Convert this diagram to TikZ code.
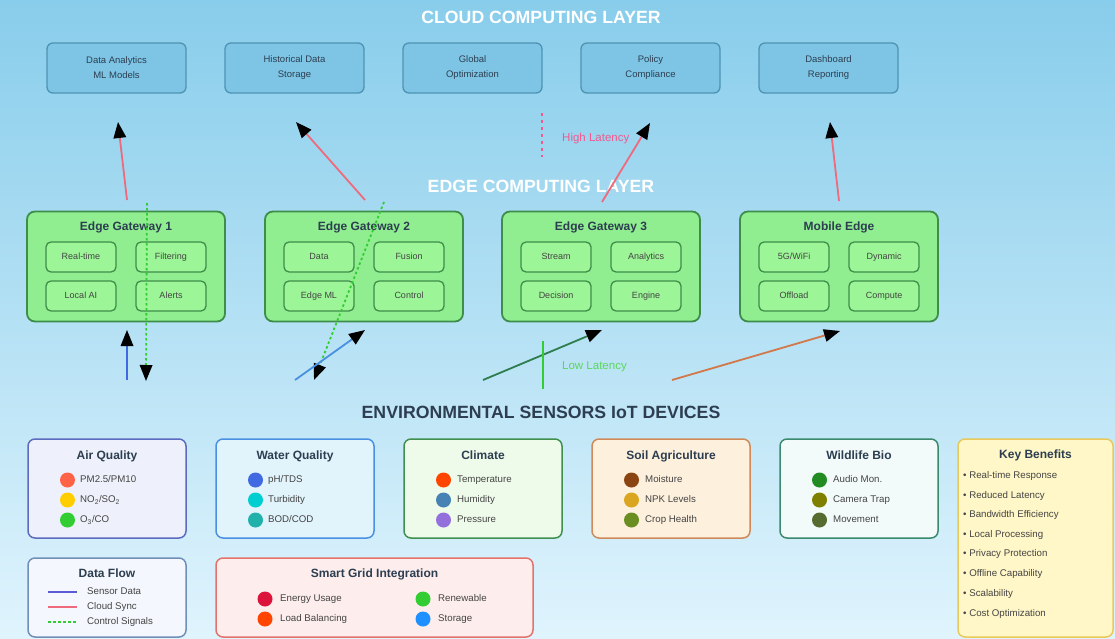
\documentclass[tikz,border=0pt]{standalone}
\usepackage{fontspec}
\setmainfont{Liberation Sans}
\usepackage{tikz}
\usetikzlibrary{arrows.meta,positioning,calc}

\definecolor{skytop}{HTML}{88CDEB}
\definecolor{skybot}{HTML}{E0F4FD}
\definecolor{cloudfill}{HTML}{7EC5E5}
\definecolor{cloudline}{HTML}{4E93B3}
\definecolor{gatefill}{HTML}{90EE90}
\definecolor{unitfill}{HTML}{9CF596}
\definecolor{gateline}{HTML}{3E8E4A}
\definecolor{inktext}{HTML}{2C3E50}
\definecolor{inkgray}{HTML}{444444}
\definecolor{syncred}{HTML}{EE6A7C}
\definecolor{ctrlgreen}{HTML}{32CD32}
\definecolor{airline}{HTML}{5C6BC0}
\definecolor{airfill}{HTML}{EEF1FB}
\definecolor{waterline}{HTML}{4A90E2}
\definecolor{waterfill}{HTML}{E1F3FB}
\definecolor{climline}{HTML}{3F8F4F}
\definecolor{climfill}{HTML}{EFFBEA}
\definecolor{soilline}{HTML}{D08A5A}
\definecolor{soilfill}{HTML}{FDF0DC}
\definecolor{wildline}{HTML}{3B8A6E}
\definecolor{wildfill}{HTML}{F2FBFA}
\definecolor{keyline}{HTML}{E8C95A}
\definecolor{keyfill}{HTML}{FFF7C7}
\definecolor{flowline}{HTML}{6F8FB8}
\definecolor{flowfill}{HTML}{F4F7FD}
\definecolor{gridline}{HTML}{E3736A}
\definecolor{gridfill}{HTML}{FDEEED}

\tikzset{
  cloudbox/.style={draw=cloudline, fill=cloudfill, line width=1.3pt, rounded corners=6pt,
    minimum width=139pt, minimum height=50pt, inner sep=0pt, align=center,
    text=inktext, font=\fontsize{9.5}{15}\selectfont},
  gatebox/.style={draw=gateline, fill=gatefill, line width=1.8pt, rounded corners=8pt,
    minimum width=198pt, minimum height=110pt, inner sep=0pt},
  unitbox/.style={draw=gateline, fill=unitfill, line width=1.3pt, rounded corners=5pt,
    minimum width=70pt, minimum height=30pt, inner sep=0pt, text=inkgray,
    text height=6.5pt, text depth=1.9pt, font=\fontsize{9}{10}\selectfont},
  layertitle/.style={font=\bfseries\fontsize{17.7}{19}\selectfont},
  boxtitle/.style={text=inktext, text height=8.6pt, text depth=2.5pt,
    font=\bfseries\fontsize{12}{13}\selectfont},
  panel/.style={line width=1.5pt, rounded corners=7pt, minimum width=158pt,
    minimum height=99pt, inner sep=0pt},
  itemtext/.style={anchor=west, inner sep=0pt, text=inkgray, text height=7pt,
    text depth=2pt, font=\fontsize{9.7}{11}\selectfont},
  bead/.style={circle, inner sep=0pt, minimum size=15pt},
  link/.style={line width=1.8pt, -{Triangle[length=16pt,width=12.5pt,black]}},
  cloudsync/.style={link, syncred},
  ctrl/.style={link, ctrlgreen, dash pattern=on 2.5pt off 2.5pt}
}

\begin{document}
\begin{tikzpicture}[x=1pt,y=-1pt]

\useasboundingbox (0,0) rectangle (1115,639);
\shade[top color=skytop, bottom color=skybot] (0,0) rectangle (1115,639);

% cloud layer
\node[layertitle, text=white] (cloudtitle) at (541,17) {CLOUD COMPUTING LAYER};
\node[cloudbox] (cl1) at (116.5,68) {Data Analytics\\ML Models};
\node[cloudbox] (cl2) at (294.5,68) {Historical Data\\Storage};
\node[cloudbox] (cl3) at (472.5,68) {Global\\Optimization};
\node[cloudbox] (cl4) at (650.5,68) {Policy\\Compliance};
\node[cloudbox] (cl5) at (828.5,68) {Dashboard\\Reporting};

% edge layer
\node[layertitle, text=white] (edgetitle) at (541,186) {EDGE COMPUTING LAYER};

\node[gatebox] (gw1) at (126,266.5) {};
\node[boxtitle] (gw1t) at (126,227) {Edge Gateway 1};
\node[unitbox] (gw1a) at (81,257) {Real-time};
\node[unitbox] (gw1b) at (171,257) {Filtering};
\node[unitbox] (gw1c) at (81,296) {Local AI};
\node[unitbox] (gw1d) at (171,296) {Alerts};

\node[gatebox] (gw2) at (364,266.5) {};
\node[boxtitle] (gw2t) at (364,227) {Edge Gateway 2};
\node[unitbox] (gw2a) at (319,257) {Data};
\node[unitbox] (gw2b) at (409,257) {Fusion};
\node[unitbox] (gw2c) at (319,296) {Edge ML};
\node[unitbox] (gw2d) at (409,296) {Control};

\node[gatebox] (gw3) at (601,266.5) {};
\node[boxtitle] (gw3t) at (601,227) {Edge Gateway 3};
\node[unitbox] (gw3a) at (556,257) {Stream};
\node[unitbox] (gw3b) at (646,257) {Analytics};
\node[unitbox] (gw3c) at (556,296) {Decision};
\node[unitbox] (gw3d) at (646,296) {Engine};

\node[gatebox] (mob) at (839,266.5) {};
\node[boxtitle] (mobt) at (839,227) {Mobile Edge};
\node[unitbox] (moba) at (794,257) {5G/WiFi};
\node[unitbox] (mobb) at (884,257) {Dynamic};
\node[unitbox] (mobc) at (794,296) {Offload};
\node[unitbox] (mobd) at (884,296) {Compute};

% edge to cloud
\coordinate (up1s) at (127,200); \coordinate (up1e) at (118,122);
\coordinate (up2s) at (365,200); \coordinate (up2e) at (296,122);
\coordinate (up3s) at (602,202); \coordinate (up3e) at (650,123);
\coordinate (up4s) at (839,201); \coordinate (up4e) at (830,122);
\draw[cloudsync] (up1s) -- (up1e);
\draw[cloudsync] (up2s) -- (up2e);
\draw[cloudsync] (up3s) -- (up3e);
\draw[cloudsync] (up4s) -- (up4e);

\coordinate (hl1) at (542,113); \coordinate (hl2) at (542,157);
\draw[color=syncred!85!magenta, line width=2.5pt, dash pattern=on 3pt off 4pt] (hl1) -- (hl2);
\node[anchor=west, inner sep=0pt, text=syncred!85!magenta, font=\fontsize{11.5}{12}\selectfont] (hightxt) at (562,139) {High Latency};

% control signals
\coordinate (dn1s) at (147,203); \coordinate (dn1e) at (146,381);
\coordinate (dn2s) at (384,202); \coordinate (dn2e) at (314,380);
\draw[ctrl] (dn1s) -- (dn1e);
\draw[ctrl] (dn2s) -- (dn2e);

% sensors to edge
\coordinate (in1s) at (127,380); \coordinate (in1e) at (127,330);
\coordinate (in2s) at (295,380); \coordinate (in2e) at (365,330);
\coordinate (in3s) at (483,380); \coordinate (in3e) at (602,330);
\coordinate (in4s) at (672,380); \coordinate (in4e) at (840,331);
\draw[link, color={rgb,255:red,65;green,105;blue,225}] (in1s) -- (in1e);
\draw[link, color={rgb,255:red,74;green,144;blue,226}] (in2s) -- (in2e);
\draw[link, color={rgb,255:red,46;green,125;blue,79}] (in3s) -- (in3e);
\draw[link, color={rgb,255:red,210;green,120;blue,74}] (in4s) -- (in4e);

\coordinate (ll1) at (543,341); \coordinate (ll2) at (543,389);
\draw[color=ctrlgreen, line width=2pt] (ll1) -- (ll2);
\node[anchor=west, inner sep=0pt, text=ctrlgreen!80!white, font=\fontsize{11.5}{12}\selectfont] (lowtxt) at (562,367) {Low Latency};

% sensor layer
\node[layertitle, text=inktext] (sensetitle) at (541,412) {ENVIRONMENTAL SENSORS IoT DEVICES};

\node[panel, draw=airline, fill=airfill] (air) at (107,488.5) {};
\node[boxtitle] (airt) at (107,456) {Air Quality};
\node[bead, fill={rgb,255:red,255;green,99;blue,71}] (air1) at (67.5,480) {};
\node[itemtext] (air1t) at (80,480) {PM2.5/PM10};
\node[bead, fill={rgb,255:red,255;green,205;blue,0}] (air2) at (67.5,500) {};
\node[itemtext] (air2t) at (80,500) {NO\textsubscript{2}/SO\textsubscript{2}};
\node[bead, fill={rgb,255:red,50;green,205;blue,50}] (air3) at (67.5,520) {};
\node[itemtext] (air3t) at (80,520) {O\textsubscript{3}/CO};

\node[panel, draw=waterline, fill=waterfill] (water) at (295,488.5) {};
\node[boxtitle] (watert) at (295,456) {Water Quality};
\node[bead, fill={rgb,255:red,65;green,105;blue,225}] (water1) at (255.5,480) {};
\node[itemtext] (water1t) at (268,480) {pH/TDS};
\node[bead, fill={rgb,255:red,0;green,206;blue,209}] (water2) at (255.5,500) {};
\node[itemtext] (water2t) at (268,500) {Turbidity};
\node[bead, fill={rgb,255:red,32;green,178;blue,170}] (water3) at (255.5,520) {};
\node[itemtext] (water3t) at (268,520) {BOD/COD};

\node[panel, draw=climline, fill=climfill] (clim) at (483,488.5) {};
\node[boxtitle] (climt) at (483,456) {Climate};
\node[bead, fill={rgb,255:red,255;green,69;blue,0}] (clim1) at (443.5,480) {};
\node[itemtext] (clim1t) at (457,480) {Temperature};
\node[bead, fill={rgb,255:red,70;green,130;blue,180}] (clim2) at (443.5,500) {};
\node[itemtext] (clim2t) at (457,500) {Humidity};
\node[bead, fill={rgb,255:red,147;green,112;blue,219}] (clim3) at (443.5,520) {};
\node[itemtext] (clim3t) at (457,520) {Pressure};

\node[panel, draw=soilline, fill=soilfill] (soil) at (671,488.5) {};
\node[boxtitle] (soilt) at (671,456) {Soil Agriculture};
\node[bead, fill={rgb,255:red,139;green,69;blue,19}] (soil1) at (631.5,480) {};
\node[itemtext] (soil1t) at (645,480) {Moisture};
\node[bead, fill={rgb,255:red,218;green,165;blue,32}] (soil2) at (631.5,500) {};
\node[itemtext] (soil2t) at (645,500) {NPK Levels};
\node[bead, fill={rgb,255:red,107;green,142;blue,35}] (soil3) at (631.5,520) {};
\node[itemtext] (soil3t) at (645,520) {Crop Health};

\node[panel, draw=wildline, fill=wildfill] (wild) at (859,488.5) {};
\node[boxtitle] (wildt) at (859,456) {Wildlife Bio};
\node[bead, fill={rgb,255:red,34;green,139;blue,34}] (wild1) at (819.5,480) {};
\node[itemtext] (wild1t) at (833,480) {Audio Mon.};
\node[bead, fill={rgb,255:red,128;green,128;blue,0}] (wild2) at (819.5,500) {};
\node[itemtext] (wild2t) at (833,500) {Camera Trap};
\node[bead, fill={rgb,255:red,85;green,107;blue,47}] (wild3) at (819.5,520) {};
\node[itemtext] (wild3t) at (833,520) {Movement};

% benefits
\node[panel, draw=keyline, fill=keyfill, minimum width=155pt, minimum height=198pt] (keyb) at (1035.5,538) {};
\node[boxtitle] (keyt) at (1035.5,455) {Key Benefits};
\node[itemtext] (key1) at (963,476) {• Real-time Response};
\node[itemtext] (key2) at (963,496) {• Reduced Latency};
\node[itemtext] (key3) at (963,515) {• Bandwidth Efficiency};
\node[itemtext] (key4) at (963,535) {• Local Processing};
\node[itemtext] (key5) at (963,554) {• Privacy Protection};
\node[itemtext] (key6) at (963,574) {• Offline Capability};
\node[itemtext] (key7) at (963,594) {• Scalability};
\node[itemtext] (key8) at (963,614) {• Cost Optimization};

% legend
\node[panel, draw=flowline, fill=flowfill, minimum height=79pt] (flow) at (107,597.5) {};
\node[boxtitle] (flowt) at (107,574) {Data Flow};
\coordinate (f1a) at (48,592); \coordinate (f1b) at (77,592);
\coordinate (f2a) at (48,607); \coordinate (f2b) at (77,607);
\coordinate (f3a) at (48,622); \coordinate (f3b) at (77,622);
\draw[color={rgb,255:red,91;green,91;blue,214}, line width=1.8pt] (f1a) -- (f1b);
\draw[color=syncred, line width=1.8pt] (f2a) -- (f2b);
\draw[color=ctrlgreen, line width=1.8pt, dash pattern=on 2.5pt off 2.5pt] (f3a) -- (f3b);
\node[itemtext] (f1t) at (87,592) {Sensor Data};
\node[itemtext] (f2t) at (87,607) {Cloud Sync};
\node[itemtext] (f3t) at (87,622) {Control Signals};

\node[panel, draw=gridline, fill=gridfill, minimum width=317pt, minimum height=79pt] (grid) at (374.5,597.5) {};
\node[boxtitle] (gridt) at (374.5,574) {Smart Grid Integration};
\node[bead, fill={rgb,255:red,220;green,20;blue,60}] (grid1) at (265,599) {};
\node[itemtext] (grid1t) at (280,599) {Energy Usage};
\node[bead, fill={rgb,255:red,255;green,69;blue,0}] (grid2) at (265,619) {};
\node[itemtext] (grid2t) at (280,619) {Load Balancing};
\node[bead, fill={rgb,255:red,50;green,205;blue,50}] (grid3) at (423,599) {};
\node[itemtext] (grid3t) at (438,599) {Renewable};
\node[bead, fill={rgb,255:red,30;green,144;blue,255}] (grid4) at (423,619) {};
\node[itemtext] (grid4t) at (438,619) {Storage};

\end{tikzpicture}
\end{document}
